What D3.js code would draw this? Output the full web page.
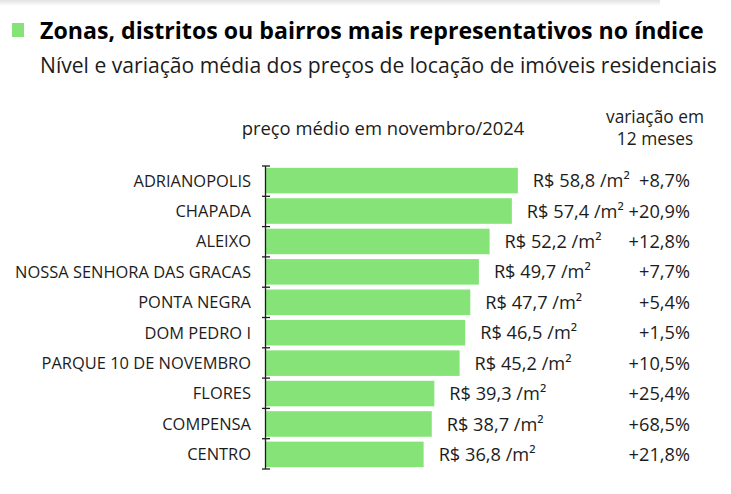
<!DOCTYPE html>
<html><head><meta charset="utf-8">
<script src="https://cdn.jsdelivr.net/npm/d3@7"></script>
<style>
html,body{margin:0;padding:0;background:#fff;}
svg{display:block;font-family:"Open Sans",sans-serif;}
</style></head>
<body>
<script>
const categories = ["ADRIANOPOLIS","CHAPADA","ALEIXO","NOSSA SENHORA DAS GRACAS","PONTA NEGRA","DOM PEDRO I","PARQUE 10 DE NOVEMBRO","FLORES","COMPENSA","CENTRO"];
const prices = [58.8,57.4,52.2,49.7,47.7,46.5,45.2,39.3,38.7,36.8];
const variations = [8.7,20.9,12.8,7.7,5.4,1.5,10.5,25.4,68.5,21.8];
const titleText = "Zonas, distritos ou bairros mais representativos no índice";
const subtitleText = "Nível e variação média dos preços de locação de imóveis residenciais";
const priceHeader = "preço médio em novembro/2024";
const varHeader = ["variação em","12 meses"];

const W = 731, H = 494;
const green = "#85e378", ink = "#1c1c1c";
const fmt = v => v.toFixed(1).replace(".", ",");

const svg = d3.select("body").append("svg").attr("width", W).attr("height", H);

// subtle top shadow
const defs = svg.append("defs");
const g0 = defs.append("linearGradient").attr("id","topshade").attr("x1",0).attr("x2",0).attr("y1",0).attr("y2",1);
g0.append("stop").attr("offset","0%").attr("stop-color","#e2e2e2");
g0.append("stop").attr("offset","100%").attr("stop-color","#ffffff");
svg.append("rect").attr("x",0).attr("y",0).attr("width",660).attr("height",6).attr("fill","url(#topshade)");

function fit(sel, target) {
  const n = sel.node();
  const fs = parseFloat(sel.attr("font-size"));
  const w = n.getComputedTextLength();
  sel.attr("font-size", (fs * target / w).toFixed(2));
  return fs * target / w;
}

// title
svg.append("rect").attr("x",12).attr("y",23).attr("width",12).attr("height",14).attr("fill",green);
const t = svg.append("text").attr("x",40).attr("y",39).attr("font-size",20).attr("font-weight",700).attr("fill","#000").text(titleText);
fit(t, 664);
const st = svg.append("text").attr("x",40).attr("y",73).attr("font-size",17).attr("fill",ink).text(subtitleText);
fit(st, 677);

// scales
const x = d3.scaleLinear().domain([0, 60]).range([266, 523]);
const y = d3.scaleBand().domain(categories).range([166, 469]).paddingInner(0.16).paddingOuter(0.06);
const yEdge = d3.scaleLinear().domain([0, categories.length]).range([166, 469]);

// headers
const ph = svg.append("text").attr("x",383).attr("y",135).attr("text-anchor","middle").attr("font-size",14).attr("fill",ink).text(priceHeader);
fit(ph, 283);
const vhs = svg.append("g").selectAll("text").data(varHeader).join("text")
  .attr("x",655).attr("y",(d,i)=>123+i*22).attr("text-anchor","middle")
  .attr("font-size",14).attr("fill",ink).text(d=>d);
const fsV = fit(vhs.filter((d,i)=>i===0), 98);
vhs.attr("font-size", fsV.toFixed(2));

// bars
svg.append("g").selectAll("rect").data(categories).join("rect")
  .attr("x", x(0)).attr("y", d => y(d))
  .attr("width", (d,i) => x(prices[i]) - x(0))
  .attr("height", y.bandwidth())
  .attr("fill", green);

// axis line and ticks at band edges
const ax = svg.append("g").attr("stroke", ink).attr("stroke-width",1.3);
ax.append("line").attr("x1",265.5).attr("x2",265.5).attr("y1",yEdge(0)).attr("y2",yEdge(categories.length));
ax.selectAll("line.tk").data(d3.range(categories.length+1)).join("line").attr("class","tk")
  .attr("x1",262).attr("x2",270).attr("y1",d=>yEdge(d)).attr("y2",d=>yEdge(d));

// category labels
const cl = svg.append("g").selectAll("text").data(categories).join("text")
  .attr("x", 251).attr("y", d => y(d) + y.bandwidth()/2).attr("dy","0.36em")
  .attr("text-anchor","end").attr("font-size",14).attr("fill",ink).text(d=>d);
const longest = cl.filter(d => d === "NOSSA SENHORA DAS GRACAS");
const fsC = fit(longest, 236);
cl.attr("font-size", fsC.toFixed(2));

// price labels
const pl = svg.append("g").selectAll("text").data(categories).join("text")
  .attr("x", (d,i) => x(prices[i]) + 15).attr("y", d => y(d) + y.bandwidth()/2).attr("dy","0.36em")
  .attr("font-size",15).attr("fill",ink).text((d,i) => `R$ ${fmt(prices[i])} /m²`);
const fsP = fit(pl.filter((d,i)=>i===0), 97);
pl.attr("font-size", fsP.toFixed(2));

// variation labels
svg.append("g").selectAll("text").data(categories).join("text")
  .attr("x", 690).attr("y", d => y(d) + y.bandwidth()/2).attr("dy","0.36em")
  .attr("text-anchor","end").attr("font-size",fsP.toFixed(2)).attr("fill",ink)
  .text((d,i) => `+${fmt(variations[i])}%`);
</script>
</body></html>
